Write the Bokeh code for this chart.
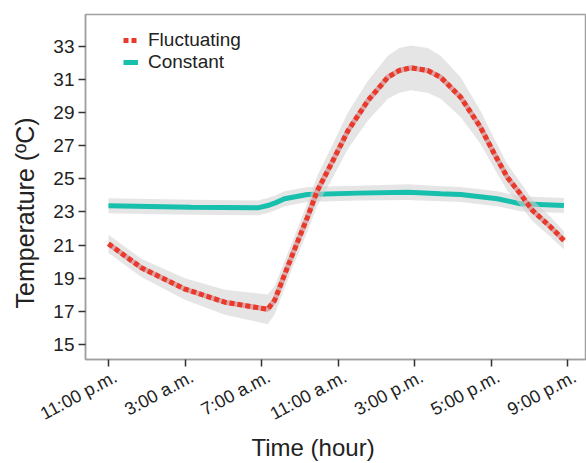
from bokeh.plotting import figure
from bokeh.models import Range1d, FixedTicker, Legend, LegendItem, LinearAxis, Title, CustomLabelingPolicy
from bokeh.embed import file_html
from bokeh.resources import INLINE

# tick positions / labels
tick_pos = [0, 1, 2, 3, 4, 5, 6]
tick_labels = ["11:00 p.m.", "3:00 a.m.", "7:00 a.m.", "11:00 a.m.", "3:00 p.m.", "5:00 p.m.", "9:00 p.m."]
y_ticks = [15, 17, 19, 21, 23, 25, 27, 29, 31, 33]

# Fluctuating treatment (mean and half-width of band)
fl_x = [0.00, 0.43, 0.99, 1.52, 2.08, 2.17, 2.39, 2.60, 2.73, 2.91, 3.13, 3.39, 3.65, 3.80, 3.95, 4.17,
        4.34, 4.60, 4.86, 5.04, 5.21, 5.38, 5.54, 5.78, 5.95]
fl_y = [21.08, 19.63, 18.36, 17.55, 17.12, 17.66, 20.27, 22.69, 24.30, 25.90, 27.92, 29.73, 31.14, 31.55,
        31.71, 31.55, 31.14, 29.94, 28.12, 26.52, 25.10, 24.10, 23.09, 22.08, 21.28]
fl_sd = [0.55, 0.55, 0.65, 0.75, 0.90, 0.85, 0.80, 0.85, 0.90, 1.00, 1.10, 1.20, 1.30, 1.35,
         1.35, 1.35, 1.30, 1.20, 1.00, 0.90, 0.80, 0.70, 0.65, 0.60, 0.55]

# Constant treatment
co_x = [0.00, 1.08, 1.95, 2.08, 2.18, 2.30, 2.60, 3.26, 3.91, 4.34, 4.60, 5.08, 5.38, 5.95]
co_y = [23.38, 23.29, 23.25, 23.39, 23.55, 23.80, 24.06, 24.14, 24.20, 24.10, 24.06, 23.80, 23.50, 23.39]
co_sd = [0.45, 0.45, 0.45, 0.45, 0.45, 0.45, 0.45, 0.45, 0.48, 0.45, 0.45, 0.45, 0.45, 0.45]

FONT = "Liberation Sans"
INK = "#222222"

p = figure(width=586, height=463,
           x_range=Range1d(-0.30, 6.245), y_range=Range1d(14.09, 34.93),
           output_backend="svg", toolbar_location=None,
           min_border_left=84, min_border_right=0, min_border_top=14, min_border_bottom=104)
p.background_fill_color = "white"
p.border_fill_color = "white"
p.outline_line_color = "#a0a0a0"
p.outline_line_width = 1.5
p.grid.visible = False

# bands
p.varea(x=co_x, y1=[m - s for m, s in zip(co_y, co_sd)], y2=[m + s for m, s in zip(co_y, co_sd)],
        fill_color="#d0d0d0", fill_alpha=0.55)
r_co = p.line(co_x, co_y, line_color="#17bfad", line_width=5)
p.varea(x=fl_x, y1=[m - s for m, s in zip(fl_y, fl_sd)], y2=[m + s for m, s in zip(fl_y, fl_sd)],
        fill_color="#d0d0d0", fill_alpha=0.55)
p.line(fl_x, fl_y, line_color="#dba3a3", line_width=5)
r_fl = p.line(fl_x, fl_y, line_color="#e8392b", line_width=5, line_dash="5 3")

# axes
for ax in (p.xaxis[0], p.yaxis[0]):
    ax.axis_line_color = "#a0a0a0"
    ax.axis_line_width = 1.5
    ax.major_tick_line_color = "#333333"
    ax.major_tick_line_width = 1.5
    ax.major_tick_in = 0
    ax.major_tick_out = 7
    ax.minor_tick_line_color = None
    ax.major_label_text_font = FONT
    ax.major_label_text_font_size = "19px"
    ax.major_label_text_color = INK

# x axis: tick marks on the main axis (its own labels suppressed),
# rotated labels on a companion axis set slightly to the right
p.xaxis.ticker = FixedTicker(ticks=tick_pos)
p.xaxis.major_label_standoff = 0
p.xaxis.major_label_text_font_size = "1px"
p.xaxis.major_label_policy = CustomLabelingPolicy(
    code="const all = [...indices]; for (const i of all) indices.set(i, false); return indices")
shift = 0.09375
lab_pos = [t + shift for t in tick_pos]
lab_axis = LinearAxis(ticker=FixedTicker(ticks=lab_pos),
                      major_label_overrides={t: l for t, l in zip(lab_pos, tick_labels)},
                      axis_line_color=None, major_tick_line_color=None, minor_tick_line_color=None,
                      major_tick_in=0, major_tick_out=0, major_label_standoff=5,
                      major_label_orientation=0.49, major_label_text_font=FONT,
                      major_label_text_font_size="18px", major_label_text_color=INK)
p.add_layout(lab_axis, "below")

p.yaxis.ticker = FixedTicker(ticks=y_ticks)
p.yaxis.major_label_standoff = 4

# axis titles
p.add_layout(Title(text="Time (hour)", align="left", offset=166, standoff=-4, text_line_height=1.0,
                   vertical_align="top",
                   text_font=FONT, text_font_size="24px", text_font_style="normal",
                   text_color=INK), "below")
p.add_layout(Title(text="Temperature (ºC)", align="left", offset=51, standoff=20, text_line_height=1.0,
                   vertical_align="top",
                   text_font=FONT, text_font_size="25px", text_font_style="normal",
                   text_color=INK), "left")

legend = Legend(items=[LegendItem(label="Fluctuating", renderers=[r_fl]),
                       LegendItem(label="Constant", renderers=[r_co])],
                location=(38, 286), margin=0, padding=0, spacing=-7,
                glyph_width=15, glyph_height=20, label_height=20, label_standoff=10,
                label_text_font=FONT, label_text_font_size="19px", label_text_color=INK,
                background_fill_alpha=0, border_line_color=None)
p.add_layout(legend)

open("out.html", "w").write(file_html(p, INLINE))
